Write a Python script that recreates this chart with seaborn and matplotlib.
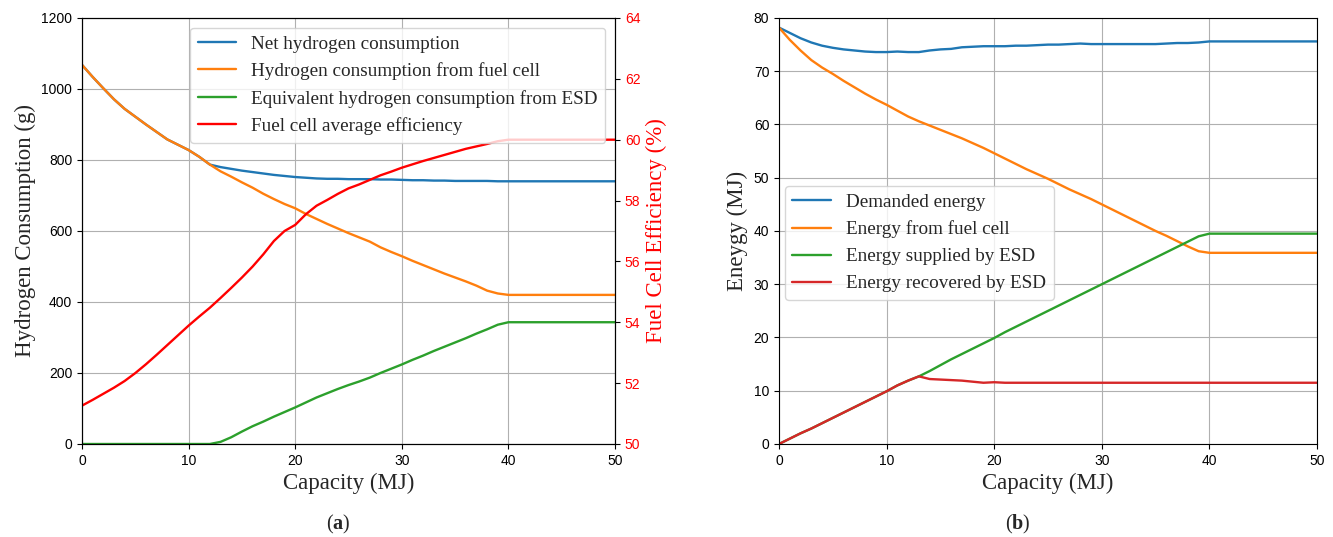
import numpy as np
import pandas as pd
import matplotlib
matplotlib.use("Agg")
import matplotlib.pyplot as plt
import seaborn as sns

# ---------------- data ----------------
capacity = list(range(0, 51))

# (a) hydrogen consumption (g)
net_hydrogen = [1068, 1034, 1002, 971, 944, 922, 900, 879, 858, 843, 828, 809, 787,
                780, 775, 770, 766, 762, 758, 755, 752, 750, 748, 747, 747, 746,
                746, 746, 745, 745, 744, 743, 743, 742, 742, 741, 741, 741, 741,
                740, 740, 740, 740, 740, 740, 740, 740, 740, 740, 740, 740]
fc_hydrogen = [1068, 1034, 1002, 971, 944, 922, 900, 879, 858, 843, 828, 809, 787,
               768, 753, 737, 722, 705, 690, 676, 664, 648, 634, 620, 607, 594,
               582, 570, 554, 541, 529, 516, 504, 492, 480, 469, 458, 446, 432,
               424, 420, 420, 420, 420, 420, 420, 420, 420, 420, 420, 420]
esd_hydrogen = [0, 0, 0, 0, 0, 0, 0, 0, 0, 0, 0, 0, 0,
                6, 19, 35, 50, 63, 77, 90, 103, 117, 131, 143, 155, 166,
                176, 187, 200, 212, 224, 237, 249, 262, 274, 286, 298, 311, 323,
                336, 343, 343, 343, 343, 343, 343, 343, 343, 343, 343, 343]
fc_efficiency = [51.26, 51.45, 51.65, 51.85, 52.07, 52.33, 52.62, 52.93, 53.25, 53.57,
                 53.89, 54.19, 54.48, 54.80, 55.13, 55.47, 55.83, 56.23, 56.67, 57.00,
                 57.20, 57.55, 57.83, 58.02, 58.22, 58.40, 58.53, 58.68, 58.83, 58.95,
                 59.08, 59.19, 59.30, 59.40, 59.50, 59.60, 59.70, 59.78, 59.86, 59.95,
                 60.0, 60.0, 60.0, 60.0, 60.0, 60.0, 60.0, 60.0, 60.0, 60.0, 60.0]

# (b) energy (MJ)
demanded_energy = [78.2, 77.2, 76.2, 75.4, 74.8, 74.4, 74.1, 73.9, 73.7, 73.6,
                   73.6, 73.7, 73.6, 73.6, 73.9, 74.1, 74.2, 74.5, 74.6, 74.7,
                   74.7, 74.7, 74.8, 74.8, 74.9, 75.0, 75.0, 75.1, 75.2, 75.1,
                   75.1, 75.1, 75.1, 75.1, 75.1, 75.1, 75.2, 75.3, 75.3, 75.4,
                   75.6, 75.6, 75.6, 75.6, 75.6, 75.6, 75.6, 75.6, 75.6, 75.6, 75.6]
fc_energy = [78.2, 75.9, 73.9, 72.1, 70.7, 69.5, 68.2, 67.0, 65.8, 64.7,
             63.7, 62.6, 61.5, 60.6, 59.8, 59.0, 58.2, 57.4, 56.5, 55.6,
             54.6, 53.6, 52.6, 51.6, 50.7, 49.8, 48.8, 47.8, 46.9, 46.0,
             45.0, 44.0, 43.0, 42.0, 41.0, 40.0, 39.1, 38.1, 37.1, 36.2,
             35.9, 35.9, 35.9, 35.9, 35.9, 35.9, 35.9, 35.9, 35.9, 35.9, 35.9]
esd_supplied = [0.0, 1.0, 2.0, 2.9, 3.9, 4.9, 5.9, 6.9, 7.9, 8.9,
                9.9, 11.0, 11.9, 12.7, 13.7, 14.8, 15.9, 16.9, 17.9, 18.9,
                19.9, 21.0, 22.0, 23.0, 24.0, 25.0, 26.0, 27.0, 28.0, 29.0,
                30.0, 31.0, 32.0, 33.0, 34.0, 35.0, 36.0, 37.0, 38.0, 39.0,
                39.5, 39.5, 39.5, 39.5, 39.5, 39.5, 39.5, 39.5, 39.5, 39.5, 39.5]
esd_recovered = [0.0, 1.0, 2.0, 2.9, 3.9, 4.9, 5.9, 6.9, 7.9, 8.9,
                 9.9, 11.0, 11.9, 12.7, 12.2, 12.1, 12.0, 11.9, 11.7, 11.5,
                 11.6, 11.5, 11.5, 11.5, 11.5, 11.5, 11.5, 11.5, 11.5, 11.5,
                 11.5, 11.5, 11.5, 11.5, 11.5, 11.5, 11.5, 11.5, 11.5, 11.5,
                 11.5, 11.5, 11.5, 11.5, 11.5, 11.5, 11.5, 11.5, 11.5, 11.5, 11.5]

x_ticks = [0, 10, 20, 30, 40, 50]
h2_ticks = [0, 200, 400, 600, 800, 1000, 1200]
eff_ticks = [50, 52, 54, 56, 58, 60, 62, 64]
energy_ticks = [0, 10, 20, 30, 40, 50, 60, 70, 80]

# ---------------- style ----------------
sns.set_theme(style="ticks")
plt.rcParams.update({
    "font.family": ["Liberation Sans", "DejaVu Sans"],
    "mathtext.fontset": "custom",
    "mathtext.rm": "Liberation Serif",
    "mathtext.bf": "Liberation Serif:bold",
    "xtick.labelsize": 10,
    "ytick.labelsize": 10,
    "xtick.major.size": 3.5,
    "ytick.major.size": 3.5,
    "xtick.major.width": 0.8,
    "ytick.major.width": 0.8,
    "axes.linewidth": 0.8,
    "axes.edgecolor": "black",
    "xtick.color": "black",
    "ytick.color": "black",
    "grid.color": "#b0b0b0",
    "grid.linewidth": 0.8,
})

SERIF = ["Liberation Serif", "DejaVu Serif"]
LAB_FS = 16.5
LEG_FS = 13.8
LW = 1.7

fig = plt.figure(figsize=(13.33, 5.37), dpi=100)
ax1 = fig.add_axes([0.0615, 0.1732, 0.3999, 0.7933])
ax3 = fig.add_axes([0.5844, 0.1732, 0.4036, 0.7933])

# ---------------- (a) ----------------
dfa = pd.DataFrame({"cap": capacity, "net": net_hydrogen, "fc": fc_hydrogen,
                    "esd": esd_hydrogen, "eff": fc_efficiency})
sns.lineplot(data=dfa, x="cap", y="net", ax=ax1, color="#1f77b4", lw=LW,
             label="Net hydrogen consumption")
sns.lineplot(data=dfa, x="cap", y="fc", ax=ax1, color="#ff7f0e", lw=LW,
             label="Hydrogen consumption from fuel cell")
sns.lineplot(data=dfa, x="cap", y="esd", ax=ax1, color="#2ca02c", lw=LW,
             label="Equivalent hydrogen consumption from ESD")
ax1.set_xlim(0, 50)
ax1.set_ylim(0, 1200)
ax1.set_xticks(x_ticks)
ax1.set_yticks(h2_ticks)
ax1.grid(True)
ax1.set_xlabel("Capacity (MJ)", fontsize=LAB_FS, family=SERIF)
ax1.set_ylabel("Hydrogen Consumption (g)", fontsize=LAB_FS, family=SERIF)

ax2 = ax1.twinx()
sns.lineplot(data=dfa, x="cap", y="eff", ax=ax2, color="red", lw=LW,
             label="Fuel cell average efficiency")
ax2.set_ylim(50, 64)
ax2.set_yticks(eff_ticks)
ax2.tick_params(axis="y", colors="red", labelcolor="red")
ax2.tick_params(axis="y", color="black")
ax2.set_ylabel("Fuel Cell Efficiency (%)", fontsize=LAB_FS, family=SERIF, color="red")
ax2.grid(False)

h1, l1 = ax1.get_legend_handles_labels()
h2, l2 = ax2.get_legend_handles_labels()
ax1.get_legend().remove()
ax2.get_legend().remove()
ax2.legend(h1 + h2, l1 + l2, loc="upper right",
           prop={"family": SERIF, "size": LEG_FS}, framealpha=0.8)

# ---------------- (b) ----------------
dfb = pd.DataFrame({"cap": capacity, "dem": demanded_energy, "fc": fc_energy,
                    "sup": esd_supplied, "rec": esd_recovered})
sns.lineplot(data=dfb, x="cap", y="dem", ax=ax3, color="#1f77b4", lw=LW,
             label="Demanded energy")
sns.lineplot(data=dfb, x="cap", y="fc", ax=ax3, color="#ff7f0e", lw=LW,
             label="Energy from fuel cell")
sns.lineplot(data=dfb, x="cap", y="sup", ax=ax3, color="#2ca02c", lw=LW,
             label="Energy supplied by ESD")
sns.lineplot(data=dfb, x="cap", y="rec", ax=ax3, color="#d62728", lw=LW,
             label="Energy recovered by ESD")
ax3.set_xlim(0, 50)
ax3.set_ylim(0, 80)
ax3.set_xticks(x_ticks)
ax3.set_yticks(energy_ticks)
ax3.grid(True)
ax3.set_xlabel("Capacity (MJ)", fontsize=LAB_FS, family=SERIF)
ax3.set_ylabel("Eneygy (MJ)", fontsize=LAB_FS, family=SERIF)
ax3.legend(loc="center left", bbox_to_anchor=(0.0, 0.472), borderaxespad=0.3,
           prop={"family": SERIF, "size": LEG_FS}, framealpha=0.8)

for ax in (ax1, ax2, ax3):
    for s in ax.spines.values():
        s.set_color("black")
        s.set_linewidth(0.8)

fig.text(338 / 1333, 1 - 524 / 537, r"($\mathbf{a}$)", ha="center", va="center",
         fontsize=14.5, family=SERIF)
fig.text(1018 / 1333, 1 - 524 / 537, r"($\mathbf{b}$)", ha="center", va="center",
         fontsize=14.5, family=SERIF)

fig.savefig("out.png", dpi=100)
